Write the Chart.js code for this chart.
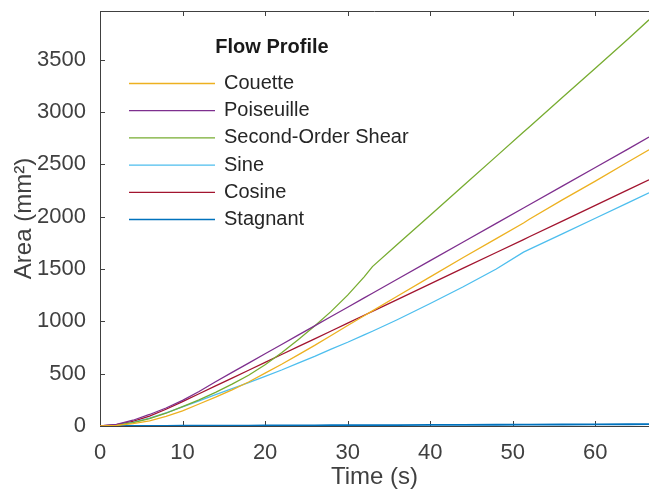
<!DOCTYPE html>
<html>
<head>
<meta charset="utf-8">
<title>Flow Profile Area</title>
<script src="https://cdn.jsdelivr.net/npm/chart.js@4.4.1/dist/chart.umd.min.js"></script>
<style>
  body { margin: 0; background: #fff; }
  #wrap { width: 649px; height: 489px; position: relative; }
</style>
</head>
<body>
<div id="wrap"><canvas id="myChart"></canvas></div>
<script>
'use strict';

// data
let times = [0, 2, 4, 6, 8, 10, 12, 14, 16, 18, 20, 22, 24, 26, 28, 30, 32, 33, 36, 40, 44, 48, 51.3, 52, 56, 60, 64, 66.5];
let couette = [0, 5, 22, 50, 92, 145, 210, 275, 345, 420, 505, 590, 680, 770, 865, 960, 1053, 1100, 1240, 1425, 1610, 1790, 1940, 1975, 2160, 2340, 2525, 2639];
let poiseuille = [0, 15, 55, 110, 172, 245, 330, 423, 512, 601, 690, 779, 868, 957, 1046, 1135, 1224, 1268, 1402, 1580, 1758, 1936, 2083, 2114, 2292, 2470, 2648, 2760];
let shear = [0, 8, 32, 70, 122, 185, 250, 322, 400, 485, 585, 700, 825, 955, 1095, 1250, 1425, 1523, 1734, 2014, 2295, 2576, 2808, 2857, 3138, 3419, 3700, 3881];
let sine = [0, 8, 35, 75, 125, 182, 240, 300, 357, 415, 475, 535, 600, 665, 735, 800, 870, 905, 1015, 1170, 1330, 1500, 1661, 1687, 1836, 1985, 2135, 2228];
let cosine = [0, 12, 45, 95, 160, 233, 308, 383, 458, 533, 608, 683, 758, 833, 908, 983, 1058, 1095, 1208, 1358, 1508, 1658, 1781, 1808, 1958, 2108, 2258, 2352];
let stagnant = [0, 0.5, 1, 1.5, 2, 2.5, 3, 3.5, 4, 4.5, 5, 5.5, 6, 6.5, 7, 7.5, 8, 8.3, 9, 10, 11, 12, 13, 13.5, 14.5, 15.5, 16.5, 17];

let seriesNames = ['Couette', 'Poiseuille', 'Second-Order Shear', 'Sine', 'Cosine', 'Stagnant'];
let seriesValues = [couette, poiseuille, shear, sine, cosine, stagnant];
let seriesColors = ['#EDB120', '#7E2F8E', '#77AC30', '#4DBEEE', '#A2142F', '#0072BD'];

let xTicks = [0, 10, 20, 30, 40, 50, 60];
let yTicks = [0, 500, 1000, 1500, 2000, 2500, 3000, 3500];
let xMax = 66.5;
let yMax = 3965;

let fontFamily = '"Liberation Sans", Arial, Helvetica, sans-serif';
let axisColor = '#404040';

function toPoints(values) {
  return times.map((t, i) => ({ x: t, y: values[i] }));
}

let datasets = [];
for (let i = 0; i < seriesNames.length; i++) {
  datasets.push({
    label: seriesNames[i],
    data: toPoints(seriesValues[i]),
    borderColor: seriesColors[i],
    backgroundColor: seriesColors[i],
    borderWidth: i === 5 ? 1.8 : 1.3,
    pointRadius: 0,
    tension: 0
  });
}

// inward tick marks and the top box line, like the original axes
let innerTicks = {
  id: 'innerTicks',
  beforeDatasetsDraw(chart) {
    let { ctx, chartArea, scales } = chart;
    ctx.save();
    ctx.strokeStyle = axisColor;
    ctx.lineWidth = 1;
    ctx.beginPath();
    ctx.moveTo(chartArea.left, chartArea.top + 0.5);
    ctx.lineTo(chartArea.right, chartArea.top + 0.5);
    scales.x.ticks.forEach(t => {
      let px = Math.round(scales.x.getPixelForValue(t.value)) + 0.5;
      ctx.moveTo(px, chartArea.bottom);
      ctx.lineTo(px, chartArea.bottom - 5);
      ctx.moveTo(px, chartArea.top);
      ctx.lineTo(px, chartArea.top + 5);
    });
    scales.y.ticks.forEach(t => {
      let py = Math.round(scales.y.getPixelForValue(t.value)) + 0.5;
      ctx.moveTo(chartArea.left, py);
      ctx.lineTo(chartArea.left + 5, py);
    });
    ctx.stroke();
    ctx.restore();
  }
};

// legend drawn inside the axes, no box
let innerLegend = {
  id: 'innerLegend',
  afterDraw(chart) {
    let ctx = chart.ctx;
    ctx.save();
    ctx.fillStyle = '#1a1a1a';
    ctx.font = 'bold 20px ' + fontFamily;
    ctx.textAlign = 'center';
    ctx.textBaseline = 'middle';
    ctx.fillText('Flow Profile', 272, 47);
    ctx.font = '20px ' + fontFamily;
    ctx.textAlign = 'left';
    chart.data.datasets.forEach((ds, i) => {
      let y = 83.5 + i * 27.2;
      ctx.strokeStyle = ds.borderColor;
      ctx.lineWidth = 1.3;
      ctx.beginPath();
      ctx.moveTo(129, y);
      ctx.lineTo(215, y);
      ctx.stroke();
      ctx.fillStyle = '#262626';
      ctx.fillText(ds.label, 224, y);
    });
    ctx.restore();
  }
};

let chartConfig = {
  type: 'line',
  data: { datasets: datasets },
  options: {
    responsive: true,
    maintainAspectRatio: false,
    animation: false,
    layout: { padding: { top: 11, right: 0, left: 0, bottom: 0 } },
    plugins: {
      legend: { display: false },
      tooltip: { enabled: false }
    },
    scales: {
      x: {
        type: 'linear',
        min: 0,
        max: xMax,
        grid: { display: false },
        border: { display: true, color: axisColor, width: 1 },
        ticks: {
          padding: 6,
          color: '#404040',
          font: { family: fontFamily, size: 22 },
          callback: value => String(value)
        },
        title: {
          display: true,
          text: 'Time (s)',
          color: '#404040',
          padding: { top: 0, bottom: 0 },
          font: { family: fontFamily, size: 24, lineHeight: 1 }
        },
        afterBuildTicks: scale => { scale.ticks = xTicks.map(v => ({ value: v })); },
        afterFit: scale => {
          scale.height = 63;
          scale.paddingLeft = 0;
          scale.paddingRight = 0;
        }
      },
      y: {
        type: 'linear',
        min: 0,
        max: yMax,
        grid: { display: false },
        border: { display: true, color: axisColor, width: 1 },
        ticks: {
          padding: 6,
          color: '#404040',
          font: { family: fontFamily, size: 22 },
          callback: value => String(value)
        },
        title: {
          display: true,
          text: 'Area (mm²)',
          color: '#404040',
          padding: { top: 12, bottom: 0 },
          font: { family: fontFamily, size: 24, lineHeight: 1 }
        },
        afterBuildTicks: scale => { scale.ticks = yTicks.map(v => ({ value: v })); },
        afterFit: scale => {
          scale.width = 100;
          scale.paddingTop = 0;
          scale.paddingBottom = 0;
        }
      }
    }
  },
  plugins: [innerTicks, innerLegend]
};

let ctx = document.getElementById('myChart').getContext('2d');
let myChart = new Chart(ctx, chartConfig); //eslint-disable-line
</script>
</body>
</html>
